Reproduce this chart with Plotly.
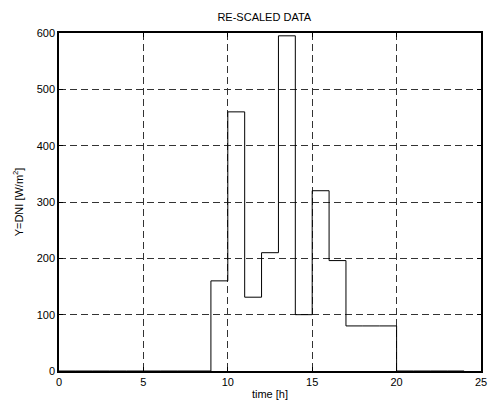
import plotly.graph_objects as go

hours = list(range(0, 25))
dni = [0, 0, 0, 0, 0, 0, 0, 0, 0, 160, 460, 131, 210, 595, 100, 320, 196, 80, 80, 80, 0, 0, 0, 0, 0]

x_ticks = [0, 5, 10, 15, 20, 25]
y_ticks = [0, 100, 200, 300, 400, 500, 600]

fig = go.Figure()
fig.add_trace(go.Scatter(x=hours, y=dni, mode="lines", line=dict(shape="hv", color="black", width=1), showlegend=False))

font = dict(family="Liberation Sans, Arial, sans-serif", size=11, color="black")
axis_common = dict(showline=True, linecolor="black", linewidth=1.5, mirror="ticks", ticks="inside", ticklen=4,
                   tickcolor="black", showgrid=True, gridcolor="#333", griddash="7px,4px", gridwidth=1, zeroline=False,
                   tickfont=font)
fig.update_layout(
    width=494, height=407,
    margin=dict(l=59, r=7, t=33, b=36),
    paper_bgcolor="white", plot_bgcolor="white",
    font=font,
    title=dict(text="RE-SCALED DATA", x=0.535, xanchor="center", y=0.957, yanchor="middle", font=dict(size=11)),
    xaxis=dict(range=[0, 25], tickvals=x_ticks, title=dict(text="time [h]", standoff=3, font=dict(size=11)), **axis_common),
    yaxis=dict(range=[0, 600], tickvals=y_ticks, title=dict(text="Y=DNI [W/m<sup>2</sup>]", standoff=11, font=dict(size=11)), **axis_common),
)
fig.write_html("out.html", config={"displayModeBar": False},
               post_script="document.body.style.margin='0';document.body.style.padding='0';")
